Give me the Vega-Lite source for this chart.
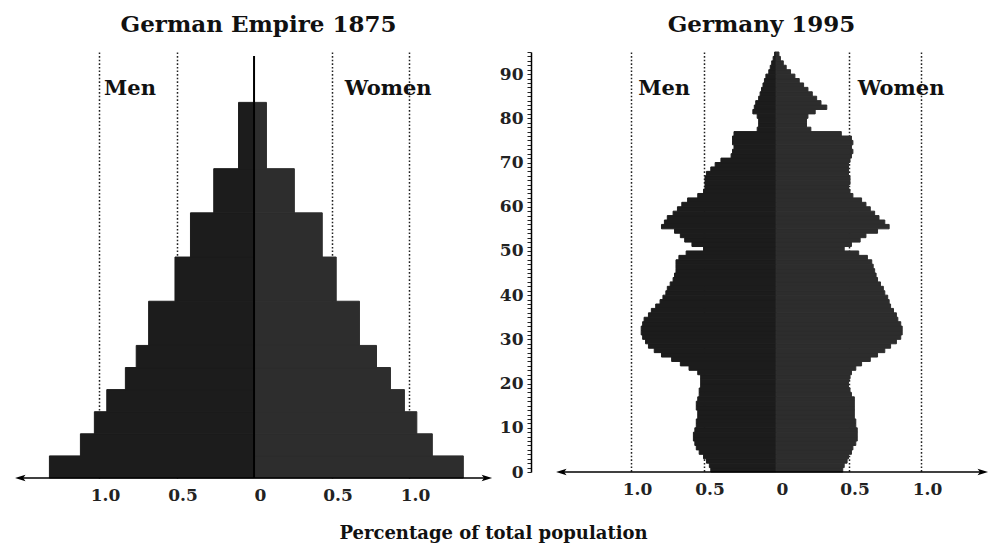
{
  "$schema": "https://vega.github.io/schema/vega-lite/v6.json",
  "background": "white",
  "padding": {"left": 15, "top": 13, "right": 0, "bottom": 0},
  "config": {
    "view": {"stroke": null},
    "font": "DejaVu Serif",
    "title": {"font": "DejaVu Serif", "fontSize": 23, "fontWeight": "bold", "color": "#111", "offset": 15}
  },
  "title": {"text": "Percentage of total population", "orient": "bottom", "anchor": "middle", "font": "DejaVu Serif", "fontSize": 18, "fontWeight": "bold", "color": "#111", "offset": 22, "dx": -8},
  "spacing": 6,
  "resolve": {"scale": {"x": "independent", "y": "independent"}},
  "datasets": {
    "empire": [
      {"age_from": 0, "age_to": 5, "men": -1.32, "women": 1.35},
      {"age_from": 5, "age_to": 10, "men": -1.12, "women": 1.15},
      {"age_from": 10, "age_to": 15, "men": -1.03, "women": 1.05},
      {"age_from": 15, "age_to": 20, "men": -0.95, "women": 0.97},
      {"age_from": 20, "age_to": 25, "men": -0.83, "women": 0.88},
      {"age_from": 25, "age_to": 30, "men": -0.76, "women": 0.79},
      {"age_from": 30, "age_to": 40, "men": -0.68, "women": 0.68},
      {"age_from": 40, "age_to": 50, "men": -0.51, "women": 0.53},
      {"age_from": 50, "age_to": 60, "men": -0.41, "women": 0.44},
      {"age_from": 60, "age_to": 70, "men": -0.26, "women": 0.26},
      {"age_from": 70, "age_to": 85, "men": -0.10, "women": 0.08}
    ],
    "germany": [
      {"age_from": 0, "age_to": 1, "men": -0.45, "women": 0.46},
      {"age_from": 1, "age_to": 2, "men": -0.46, "women": 0.47},
      {"age_from": 2, "age_to": 3, "men": -0.48, "women": 0.49},
      {"age_from": 3, "age_to": 4, "men": -0.50, "women": 0.50},
      {"age_from": 4, "age_to": 5, "men": -0.53, "women": 0.52},
      {"age_from": 5, "age_to": 6, "men": -0.55, "women": 0.53},
      {"age_from": 6, "age_to": 7, "men": -0.56, "women": 0.55},
      {"age_from": 7, "age_to": 8, "men": -0.57, "women": 0.56},
      {"age_from": 8, "age_to": 9, "men": -0.57, "women": 0.56},
      {"age_from": 9, "age_to": 10, "men": -0.56, "women": 0.56},
      {"age_from": 10, "age_to": 11, "men": -0.55, "women": 0.55},
      {"age_from": 11, "age_to": 12, "men": -0.55, "women": 0.55},
      {"age_from": 12, "age_to": 13, "men": -0.54, "women": 0.54},
      {"age_from": 13, "age_to": 14, "men": -0.54, "women": 0.54},
      {"age_from": 14, "age_to": 15, "men": -0.55, "women": 0.54},
      {"age_from": 15, "age_to": 16, "men": -0.55, "women": 0.54},
      {"age_from": 16, "age_to": 17, "men": -0.54, "women": 0.54},
      {"age_from": 17, "age_to": 18, "men": -0.53, "women": 0.52},
      {"age_from": 18, "age_to": 19, "men": -0.53, "women": 0.51},
      {"age_from": 19, "age_to": 20, "men": -0.52, "women": 0.50},
      {"age_from": 20, "age_to": 21, "men": -0.52, "women": 0.50},
      {"age_from": 21, "age_to": 22, "men": -0.52, "women": 0.51},
      {"age_from": 22, "age_to": 23, "men": -0.54, "women": 0.52},
      {"age_from": 23, "age_to": 24, "men": -0.60, "women": 0.55},
      {"age_from": 24, "age_to": 25, "men": -0.66, "women": 0.59},
      {"age_from": 25, "age_to": 26, "men": -0.72, "women": 0.65},
      {"age_from": 26, "age_to": 27, "men": -0.79, "women": 0.70},
      {"age_from": 27, "age_to": 28, "men": -0.84, "women": 0.75},
      {"age_from": 28, "age_to": 29, "men": -0.88, "women": 0.79},
      {"age_from": 29, "age_to": 30, "men": -0.90, "women": 0.83},
      {"age_from": 30, "age_to": 31, "men": -0.92, "women": 0.86},
      {"age_from": 31, "age_to": 32, "men": -0.93, "women": 0.87},
      {"age_from": 32, "age_to": 33, "men": -0.93, "women": 0.87},
      {"age_from": 33, "age_to": 34, "men": -0.92, "women": 0.86},
      {"age_from": 34, "age_to": 35, "men": -0.91, "women": 0.84},
      {"age_from": 35, "age_to": 36, "men": -0.88, "women": 0.83},
      {"age_from": 36, "age_to": 37, "men": -0.86, "women": 0.81},
      {"age_from": 37, "age_to": 38, "men": -0.83, "women": 0.79},
      {"age_from": 38, "age_to": 39, "men": -0.80, "women": 0.78},
      {"age_from": 39, "age_to": 40, "men": -0.78, "women": 0.77},
      {"age_from": 40, "age_to": 41, "men": -0.76, "women": 0.75},
      {"age_from": 41, "age_to": 42, "men": -0.75, "women": 0.74},
      {"age_from": 42, "age_to": 43, "men": -0.73, "women": 0.72},
      {"age_from": 43, "age_to": 44, "men": -0.71, "women": 0.70},
      {"age_from": 44, "age_to": 45, "men": -0.70, "women": 0.69},
      {"age_from": 45, "age_to": 46, "men": -0.69, "women": 0.68},
      {"age_from": 46, "age_to": 47, "men": -0.69, "women": 0.67},
      {"age_from": 47, "age_to": 48, "men": -0.69, "women": 0.66},
      {"age_from": 48, "age_to": 49, "men": -0.67, "women": 0.63},
      {"age_from": 49, "age_to": 50, "men": -0.62, "women": 0.57},
      {"age_from": 50, "age_to": 51, "men": -0.50, "women": 0.47},
      {"age_from": 51, "age_to": 52, "men": -0.58, "women": 0.52},
      {"age_from": 52, "age_to": 53, "men": -0.63, "women": 0.58},
      {"age_from": 53, "age_to": 54, "men": -0.66, "women": 0.62},
      {"age_from": 54, "age_to": 55, "men": -0.70, "women": 0.70},
      {"age_from": 55, "age_to": 56, "men": -0.79, "women": 0.78},
      {"age_from": 56, "age_to": 57, "men": -0.77, "women": 0.75},
      {"age_from": 57, "age_to": 58, "men": -0.75, "women": 0.71},
      {"age_from": 58, "age_to": 59, "men": -0.71, "women": 0.68},
      {"age_from": 59, "age_to": 60, "men": -0.68, "women": 0.65},
      {"age_from": 60, "age_to": 61, "men": -0.65, "women": 0.62},
      {"age_from": 61, "age_to": 62, "men": -0.61, "women": 0.59},
      {"age_from": 62, "age_to": 63, "men": -0.54, "women": 0.53},
      {"age_from": 63, "age_to": 64, "men": -0.50, "women": 0.51},
      {"age_from": 64, "age_to": 65, "men": -0.49, "women": 0.50},
      {"age_from": 65, "age_to": 66, "men": -0.49, "women": 0.51},
      {"age_from": 66, "age_to": 67, "men": -0.49, "women": 0.51},
      {"age_from": 67, "age_to": 68, "men": -0.48, "women": 0.50},
      {"age_from": 68, "age_to": 69, "men": -0.45, "women": 0.50},
      {"age_from": 69, "age_to": 70, "men": -0.42, "women": 0.50},
      {"age_from": 70, "age_to": 71, "men": -0.38, "women": 0.51},
      {"age_from": 71, "age_to": 72, "men": -0.31, "women": 0.52},
      {"age_from": 72, "age_to": 73, "men": -0.30, "women": 0.53},
      {"age_from": 73, "age_to": 74, "men": -0.29, "women": 0.52},
      {"age_from": 74, "age_to": 75, "men": -0.30, "women": 0.53},
      {"age_from": 75, "age_to": 76, "men": -0.30, "women": 0.52},
      {"age_from": 76, "age_to": 77, "men": -0.29, "women": 0.45},
      {"age_from": 77, "age_to": 78, "men": -0.13, "women": 0.24},
      {"age_from": 78, "age_to": 79, "men": -0.12, "women": 0.21},
      {"age_from": 79, "age_to": 80, "men": -0.12, "women": 0.21},
      {"age_from": 80, "age_to": 81, "men": -0.13, "women": 0.22},
      {"age_from": 81, "age_to": 82, "men": -0.16, "women": 0.27},
      {"age_from": 82, "age_to": 83, "men": -0.15, "women": 0.35},
      {"age_from": 83, "age_to": 84, "men": -0.14, "women": 0.31},
      {"age_from": 84, "age_to": 85, "men": -0.12, "women": 0.28},
      {"age_from": 85, "age_to": 86, "men": -0.11, "women": 0.25},
      {"age_from": 86, "age_to": 87, "men": -0.10, "women": 0.22},
      {"age_from": 87, "age_to": 88, "men": -0.09, "women": 0.19},
      {"age_from": 88, "age_to": 89, "men": -0.08, "women": 0.16},
      {"age_from": 89, "age_to": 90, "men": -0.07, "women": 0.13},
      {"age_from": 90, "age_to": 91, "men": -0.05, "women": 0.10},
      {"age_from": 91, "age_to": 92, "men": -0.04, "women": 0.07},
      {"age_from": 92, "age_to": 93, "men": -0.03, "women": 0.05},
      {"age_from": 93, "age_to": 94, "men": -0.02, "women": 0.03},
      {"age_from": 94, "age_to": 95, "men": -0.01, "women": 0.02}
    ]
  },
  "hconcat": [
    {
      "width": 477,
      "height": 426,
      "title": {"text": "German Empire 1875", "dx": 5},
      "layer": [
        {
          "data": {"name": "empire"},
          "mark": {"type": "rect", "color": "#1c1c1c", "stroke": "#1c1c1c", "strokeWidth": 1},
          "encoding": {
            "x": {"field": "men", "type": "quantitative",
              "scale": {"domain": [-1.542, 1.535], "nice": false, "zero": false},
              "axis": {"values": [-1, -0.5, 0, 0.5, 1], "tickCount": 50, "labelExpr": "datum.value === 0 ? '0' : format(abs(datum.value), '.1f')", "domain": false, "ticks": false, "grid": true, "gridColor": "#222", "gridDash": [1.6, 2], "gridWidth": 1.5, "gridOpacity": {"condition": {"test": "datum.value === 0", "value": 0}, "value": 1}, "labelFont": "DejaVu Serif", "labelFontSize": 17, "labelFontWeight": "bold", "labelColor": "#222", "labelPadding": 9, "labelOffset": 6, "title": null}},
            "x2": {"datum": 0},
            "y": {"field": "age_from", "type": "quantitative", "scale": {"domain": [0, 96.4], "nice": false, "zero": false}, "axis": null},
            "y2": {"field": "age_to"}
          }
        },
        {
          "data": {"name": "empire"},
          "mark": {"type": "rect", "color": "#2d2d2d", "stroke": "#2d2d2d", "strokeWidth": 1},
          "encoding": {
            "x": {"field": "women", "type": "quantitative"},
            "x2": {"datum": 0},
            "y": {"field": "age_from", "type": "quantitative", "axis": null},
            "y2": {"field": "age_to"}
          }
        },
        {
          "data": {"values": [{}]},
          "mark": {"type": "rule", "color": "#000", "strokeWidth": 2},
          "encoding": {"x": {"datum": 0}, "y": {"datum": 0, "axis": null}, "y2": {"datum": 95.5}}
        },
        {
          "data": {"values": [{}]},
          "mark": {"type": "rule", "color": "#000", "strokeWidth": 1.6},
          "encoding": {"x": {"datum": -1.50}, "x2": {"datum": 1.49}, "y": {"datum": 0, "axis": null}}
        },
        {
          "data": {"values": [{}]},
          "mark": {"type": "point", "shape": "M -1 0 L 1 -0.6 L 0.55 0 L 1 0.6 Z", "filled": true, "color": "#000", "opacity": 1, "size": 110},
          "encoding": {"x": {"datum": -1.508}, "y": {"datum": 0, "axis": null}}
        },
        {
          "data": {"values": [{}]},
          "mark": {"type": "point", "shape": "M 1 0 L -1 -0.6 L -0.55 0 L -1 0.6 Z", "filled": true, "color": "#000", "opacity": 1, "size": 110},
          "encoding": {"x": {"datum": 1.502}, "y": {"datum": 0, "axis": null}}
        },
        {
          "data": {"values": [{}]},
          "mark": {"type": "text", "text": "Men", "font": "DejaVu Serif", "fontSize": 21, "fontWeight": "bold", "color": "#111", "align": "center", "baseline": "middle"},
          "encoding": {"x": {"datum": -0.80}, "y": {"datum": 88, "axis": null}}
        },
        {
          "data": {"values": [{}]},
          "mark": {"type": "text", "text": "Women", "font": "DejaVu Serif", "fontSize": 21, "fontWeight": "bold", "color": "#111", "align": "center", "baseline": "middle"},
          "encoding": {"x": {"datum": 0.865}, "y": {"datum": 88, "axis": null}}
        }
      ]
    },
    {
      "width": 455,
      "height": 420,
      "title": {"text": "Germany 1995", "dx": 3},
      "layer": [
        {
          "data": {"name": "germany"},
          "mark": {"type": "rect", "color": "#1c1c1c", "stroke": "#1c1c1c", "strokeWidth": 1},
          "encoding": {
            "x": {"field": "men", "type": "quantitative",
              "scale": {"domain": [-1.690, 1.448], "nice": false, "zero": false},
              "axis": {"values": [-1, -0.5, 0, 0.5, 1], "tickCount": 50, "labelExpr": "datum.value === 0 ? '0' : format(abs(datum.value), '.1f')", "domain": false, "ticks": false, "grid": true, "gridColor": "#222", "gridDash": [1.6, 2], "gridWidth": 1.5, "gridOpacity": {"condition": {"test": "datum.value === 0", "value": 0}, "value": 1}, "labelFont": "DejaVu Serif", "labelFontSize": 17, "labelFontWeight": "bold", "labelColor": "#222", "labelPadding": 9, "labelOffset": 6, "title": null}},
            "x2": {"datum": 0},
            "y": {"field": "age_from", "type": "quantitative", "scale": {"domain": [0, 95], "nice": false, "zero": false},
              "axis": {"values": [0,1,2,3,4,5,6,7,8,9,10,11,12,13,14,15,16,17,18,19,20,21,22,23,24,25,26,27,28,29,30,31,32,33,34,35,36,37,38,39,40,41,42,43,44,45,46,47,48,49,50,51,52,53,54,55,56,57,58,59,60,61,62,63,64,65,66,67,68,69,70,71,72,73,74,75,76,77,78,79,80,81,82,83,84,85,86,87,88,89,90,91,92,93,94,95], "tickCount": 500, "labelExpr": "datum.value % 10 === 0 ? format(datum.value, 'd') : ''", "labelFontSize": {"condition": {"test": "datum.value % 10 !== 0", "value": 0}, "value": 17}, "domainColor": "#000", "domainWidth": 1.5, "tickColor": "#222", "tickSize": 4, "tickWidth": 1, "labelFont": "DejaVu Serif", "labelFontWeight": "bold", "labelColor": "#222", "labelPadding": 4, "labelOverlap": false, "labelFlush": false, "labelBound": false, "grid": false, "title": null}},
            "y2": {"field": "age_to"}
          }
        },
        {
          "data": {"name": "germany"},
          "mark": {"type": "rect", "color": "#2d2d2d", "stroke": "#2d2d2d", "strokeWidth": 1},
          "encoding": {
            "x": {"field": "women", "type": "quantitative"},
            "x2": {"datum": 0},
            "y": {"field": "age_from", "type": "quantitative"},
            "y2": {"field": "age_to"}
          }
        },
        {
          "data": {"values": [{}]},
          "mark": {"type": "rule", "color": "#000", "strokeWidth": 1.6},
          "encoding": {"x": {"datum": -1.47}, "x2": {"datum": 1.42}, "y": {"datum": 0}}
        },
        {
          "data": {"values": [{}]},
          "mark": {"type": "point", "shape": "M -1 0 L 1 -0.6 L 0.55 0 L 1 0.6 Z", "filled": true, "color": "#000", "opacity": 1, "size": 110},
          "encoding": {"x": {"datum": -1.481}, "y": {"datum": 0}}
        },
        {
          "data": {"values": [{}]},
          "mark": {"type": "point", "shape": "M 1 0 L -1 -0.6 L -0.55 0 L -1 0.6 Z", "filled": true, "color": "#000", "opacity": 1, "size": 110},
          "encoding": {"x": {"datum": 1.426}, "y": {"datum": 0}}
        },
        {
          "data": {"values": [{}]},
          "mark": {"type": "text", "text": "Men", "font": "DejaVu Serif", "fontSize": 21, "fontWeight": "bold", "color": "#111", "align": "center", "baseline": "middle"},
          "encoding": {"x": {"datum": -0.772}, "y": {"datum": 86.6}}
        },
        {
          "data": {"values": [{}]},
          "mark": {"type": "text", "text": "Women", "font": "DejaVu Serif", "fontSize": 21, "fontWeight": "bold", "color": "#111", "align": "center", "baseline": "middle"},
          "encoding": {"x": {"datum": 0.862}, "y": {"datum": 86.6}}
        }
      ]
    }
  ]
}
